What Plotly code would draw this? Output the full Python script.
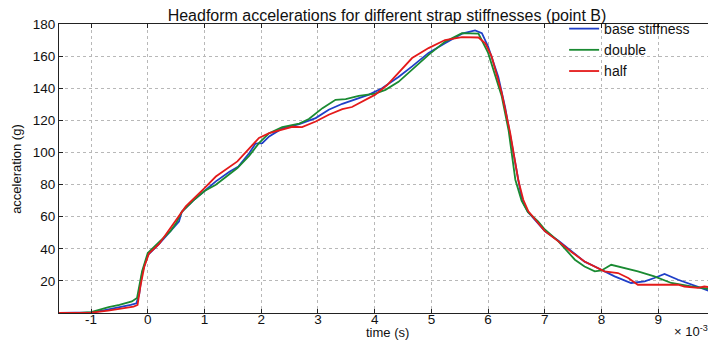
import plotly.graph_objects as go

# time in units of 1e-3 s, acceleration in g
t_base = [-1.57, -1.2, -1.0, -0.8, -0.5, -0.3, -0.2, -0.15, -0.1, -0.05, 0.0, 0.2, 0.4, 0.5, 0.55, 0.6,
          0.8, 1.0, 1.2, 1.44, 1.6, 1.79, 1.9, 2.02, 2.14, 2.37, 2.67, 2.96, 3.19, 3.43, 3.66, 3.9,
          4.13, 4.42, 4.66, 4.95, 5.24, 5.54, 5.77, 5.89, 6.0, 6.18, 6.3, 6.41, 6.52, 6.6, 6.7, 6.88,
          7.0, 7.24, 7.47, 7.7, 7.88, 8.05, 8.23, 8.52, 8.76, 8.93, 9.11, 9.35, 9.58, 9.8, 10.0]
a_base = [0, 0, 0.4, 1.5, 3.5, 5, 6, 12, 25, 31, 36, 43, 51, 55, 57, 63,
          70, 76, 82, 88, 91.3, 99.6, 105.5, 105.8, 110, 115, 117.7, 121.4, 126.6, 130.3, 133.3, 136,
          140, 147, 153.6, 162, 168, 174, 176, 174.3, 166, 147, 128, 107, 84, 70, 63, 56,
          51, 45, 38.5, 32, 29, 25.9, 22.8, 18.7, 19.7, 21.8, 24.3, 20.7, 17.6, 15, 12.5]

t_double = [-1.57, -1.2, -1.0, -0.69, -0.5, -0.28, -0.19, -0.1, 0.0, 0.2, 0.4, 0.5, 0.6, 0.8, 1.0, 1.2,
            1.58, 1.79, 1.96, 2.14, 2.37, 2.67, 2.84, 3.08, 3.31, 3.49, 3.72, 4.01, 4.19, 4.42, 4.66,
            4.95, 5.24, 5.54, 5.83, 6.0, 6.24, 6.36, 6.48, 6.59, 6.7, 6.88, 7.0, 7.24, 7.53, 7.7,
            7.88, 8.0, 8.17, 8.35, 8.64, 8.93, 9.23, 9.58, 10.0]
a_double = [0, 0, 0.6, 3.7, 5, 7.2, 9.3, 26, 37.4, 44, 51, 56, 63, 70, 76, 79.9,
            90.3, 98, 105.8, 112, 115.8, 118, 120.8, 127.6, 132.8, 133.2, 135.3, 136.6, 139, 144, 151.5,
            160.8, 169, 174.3, 174, 162, 135, 114, 83, 70, 63, 57, 52, 44.6, 33.2, 29,
            25.9, 26.5, 30, 28.6, 25.9, 22.8, 18.7, 16.6, 14.5]

t_half = [-1.57, -1.0, -0.7, -0.5, -0.25, -0.18, -0.13, -0.06, 0.02, 0.2, 0.5, 0.67, 1.0, 1.2, 1.58,
          1.79, 1.96, 2.14, 2.37, 2.55, 2.72, 2.96, 3.19, 3.43, 3.6, 3.78, 4.01, 4.22, 4.42, 4.66,
          4.95, 5.24, 5.54, 5.83, 5.95, 6.06, 6.24, 6.39, 6.53, 6.62, 6.71, 6.88, 7.0, 7.24, 7.47,
          7.7, 7.88, 8.05, 8.29, 8.47, 8.64, 8.88, 9.11, 9.35, 9.46, 9.7, 9.81, 10.0]
a_half = [0, 0.2, 1.5, 2.5, 4, 5, 16.6, 29, 37, 43, 58, 66.4, 77.8, 85, 94.4,
          102.7, 109, 112, 114, 116, 115.8, 119.3, 123.5, 127, 128.3, 131.8, 136, 142, 149.4, 158.8,
          165, 170, 171.8, 171.6, 168, 160, 137, 112, 83, 70.5, 63.3, 56, 51, 44.6, 38,
          32.1, 29, 25.9, 24.9, 21.8, 17.6, 17.6, 18, 17.6, 16.5, 15.6, 16.5, 15.6]

series_names = ["base stiffness", "double", "half"]
series_colors = ["#1f3fc8", "#1a8a32", "#e41a1a"]
x_ticks = [-1, 0, 1, 2, 3, 4, 5, 6, 7, 8, 9]
y_ticks = [20, 40, 60, 80, 100, 120, 140, 160, 180]

FONT = "Liberation Sans, Arial, Helvetica, sans-serif"

fig = go.Figure()
for name, tt, aa, col in zip(series_names, [t_base, t_double, t_half], [a_base, a_double, a_half], series_colors):
    fig.add_trace(go.Scatter(x=tt, y=aa, mode="lines", name=name,
                             line=dict(color=col, width=1.8)))

axis_common = dict(showline=True, linecolor="#222222", linewidth=1, mirror="allticks",
                   ticks="inside", ticklen=4, tickcolor="#222222",
                   showgrid=True, gridcolor="#b8b8b8", griddash="dot", gridwidth=1,
                   zeroline=False, tickfont=dict(family=FONT, size=13.5, color="#111111"))

fig.update_xaxes(range=[-1.565, 10.0], tickvals=x_ticks, ticktext=[str(v) for v in x_ticks],
                 ticklabelstandoff=-6, **axis_common)
fig.update_yaxes(range=[0, 180], tickvals=y_ticks, ticktext=[str(v) for v in y_ticks], **axis_common)

# page body has an 8px margin: the figure is sized so it ends at the window edge
fig.update_layout(
    width=708, height=332,
    margin=dict(l=51, r=1, t=16, b=27),
    paper_bgcolor="white", plot_bgcolor="white",
    font=dict(family=FONT, color="#111111"),
    title=dict(text="Headform accelerations for different strap stiffnesses (point B)",
               x=0.5, xref="paper", xanchor="center", y=0.979, yref="container", yanchor="middle",
               font=dict(family=FONT, size=16, color="#111111")),
    legend=dict(x=0.77, y=1.038, xanchor="left", yanchor="top", bgcolor="rgba(255,255,255,0)",
                borderwidth=0, font=dict(family=FONT, size=14, color="#111111"),
                itemwidth=30),
    showlegend=True,
    annotations=[
        dict(text="time (s)", xref="paper", yref="paper", x=0.5, y=-0.066, xanchor="center",
             yanchor="middle", showarrow=False, font=dict(family=FONT, size=13, color="#111111")),
        dict(text="acceleration (g)", xref="paper", yref="paper", x=-0.065, y=0.5, xanchor="center",
             yanchor="middle", textangle=-90, showarrow=False,
             font=dict(family="Liberation Sans Narrow, Arial Narrow, " + FONT, size=13, color="#111111")),
        dict(text="× 10<sup>-3</sup>", xref="paper", yref="paper", x=0.992, y=-0.062, xanchor="right",
             yanchor="middle", showarrow=False, font=dict(family=FONT, size=13, color="#111111")),
    ],
)

fig.write_html("out.html")
